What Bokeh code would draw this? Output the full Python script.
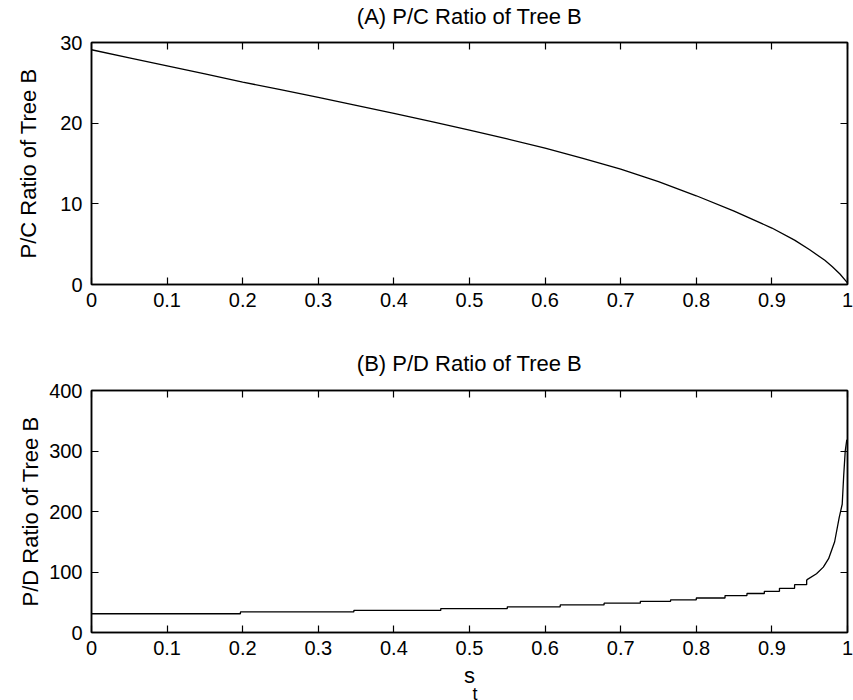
from bokeh.plotting import figure
from bokeh.layouts import column
from bokeh.models import LinearAxis, FixedTicker, CustomJSTickFormatter, Range1d, Title
from bokeh.embed import file_html
from bokeh.resources import INLINE

# ---- data ----
pc_s = [0, 0.05, 0.1, 0.15, 0.2, 0.25, 0.3, 0.35, 0.4, 0.45, 0.5, 0.55, 0.6, 0.65,
        0.7, 0.75, 0.8, 0.85, 0.9, 0.93, 0.95, 0.97, 0.98, 0.99, 1.0]
pc_ratio = [29.1, 28.1, 27.1, 26.1, 25.1, 24.15, 23.2, 22.2, 21.2, 20.2, 19.15, 18.05, 16.9, 15.65,
            14.3, 12.75, 11.0, 9.1, 7.0, 5.5, 4.3, 3.0, 2.2, 1.3, 0.2]

# staircase part of P/D
pd_step_s = [0, 0.197, 0.347, 0.462, 0.55, 0.62, 0.678, 0.726, 0.766, 0.80, 0.838, 0.867,
             0.89, 0.91, 0.93, 0.946]
pd_step_ratio = [31, 34, 36.5, 39.5, 42.5, 45.5, 48.5, 51.5, 54, 57, 61, 64.5,
                 68, 73, 79, 87]
# steep tail of P/D
pd_tail_s = [0.946, 0.959, 0.968, 0.975, 0.983, 0.989, 0.993, 0.995, 0.997, 0.999, 1.0]
pd_tail_ratio = [87, 97, 108, 122, 150, 190, 212, 260, 300, 318, 318]

x_ticks = [0, 0.1, 0.2, 0.3, 0.4, 0.5, 0.6, 0.7, 0.8, 0.9, 1]
x_tick_labels = {0: "0", 0.1: "0.1", 0.2: "0.2", 0.3: "0.3", 0.4: "0.4", 0.5: "0.5",
                 0.6: "0.6", 0.7: "0.7", 0.8: "0.8", 0.9: "0.9", 1: "1"}
pc_ticks = [0, 10, 20, 30]
pd_ticks = [0, 100, 200, 300, 400]

FONT = "Liberation Sans"
blank = CustomJSTickFormatter(code="return ''")


def style(p, yticks, ylabel_standoff, title, title_standoff):
    p.x_range = Range1d(0, 1)
    p.y_range = Range1d(yticks[0], yticks[-1])
    p.grid.visible = False
    p.outline_line_color = "black"
    p.outline_line_width = 1.5
    xax = p.below[0]
    yax = p.left[0]
    for ax in (xax, yax):
        ax.major_tick_in = 7
        ax.major_tick_out = 0
        ax.minor_tick_in = 0
        ax.minor_tick_out = 0
        ax.axis_line_width = 1.5
        ax.major_tick_line_width = 1.2
        ax.major_label_text_font = FONT
        ax.major_label_text_font_size = "20px"
        ax.major_label_text_color = "black"
        ax.axis_label_text_font = FONT
        ax.axis_label_text_font_size = "22px"
        ax.axis_label_text_font_style = "normal"
        ax.axis_label_text_color = "black"
    xax.major_label_standoff = 8
    yax.major_label_standoff = 9
    xax.ticker = FixedTicker(ticks=x_ticks)
    xax.major_label_overrides = x_tick_labels
    yax.ticker = FixedTicker(ticks=yticks)
    yax.axis_label_standoff = ylabel_standoff
    # mirrored top axis (carries the panel title as its label)
    top = LinearAxis(ticker=FixedTicker(ticks=x_ticks), formatter=blank,
                     major_tick_in=7, major_tick_out=0, minor_tick_in=0, minor_tick_out=0,
                     axis_line_width=1.5, major_tick_line_width=1.2,
                     major_label_standoff=0, major_label_text_font_size="1px",
                     axis_label=title, axis_label_standoff=title_standoff,
                     axis_label_text_font=FONT, axis_label_text_font_size="22px",
                     axis_label_text_font_style="normal", axis_label_text_color="black")
    right = LinearAxis(ticker=FixedTicker(ticks=yticks), formatter=blank,
                       major_tick_in=7, major_tick_out=0, minor_tick_in=0, minor_tick_out=0,
                       axis_line_width=1.5, major_tick_line_width=1.2,
                       major_label_standoff=0, major_label_text_font_size="1px")
    p.add_layout(top, "above")
    p.add_layout(right, "right")


# ---- top panel ----
p1 = figure(width=853, height=330, output_backend="svg", toolbar_location=None,
            min_border_left=91, min_border_right=6, min_border_top=41, min_border_bottom=46,
            y_axis_label="P/C Ratio of Tree B")
style(p1, pc_ticks, 16, "(A) P/C Ratio of Tree B", 14)
p1.line(pc_s, pc_ratio, line_color="black", line_width=1.3)

# ---- bottom panel ----
p2 = figure(width=853, height=370, output_backend="svg", toolbar_location=None,
            min_border_left=91, min_border_right=6, min_border_top=60, min_border_bottom=68,
            y_axis_label="P/D Ratio of Tree B", x_axis_label="s")
style(p2, pd_ticks, 3, "(B) P/D Ratio of Tree B", 15)
p2.below[0].axis_label_standoff = 5
p2.step(pd_step_s, pd_step_ratio, mode="after", line_color="black", line_width=1.3)
p2.line(pd_tail_s, pd_tail_ratio, line_color="black", line_width=1.3)
p2.add_layout(Title(text="t", align="left", vertical_align="top", offset=381, text_font=FONT,
                    text_font_size="18px", text_font_style="normal", text_color="black",
                    standoff=-14), "below")

layout = column(p1, p2, spacing=0)
open("out.html", "w").write(file_html(layout, INLINE))
